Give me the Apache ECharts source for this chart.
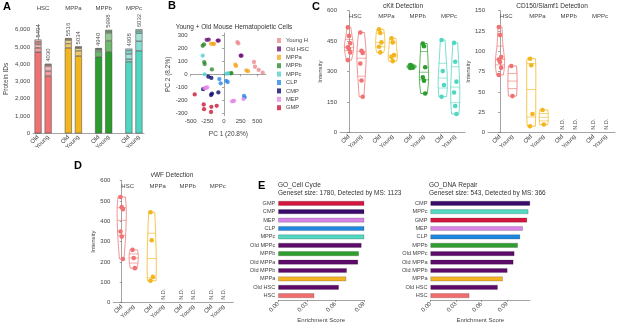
<!DOCTYPE html>
<html>
<head>
<meta charset="utf-8">
<script src="https://cdn.jsdelivr.net/npm/echarts@6/dist/echarts.min.js"></script>
<style>
  html, body { margin: 0; padding: 0; background: #fff; }
  #chart { width: 617px; height: 324px; }
</style>
</head>
<body>
<div id="chart"></div>
<script>
const FONT = 'Liberation Sans'

// ---- A: protein IDs (stacked segments per bar) ----
const aCats = ['Old', 'Young', '', 'Old', 'Young', '', 'Old', 'Young', '', 'Old', 'Young']
const aGroups = ['HSC', 'MPPa', 'MPPb', 'MPPc']
const aBase = [4700, 3320, 4950, 4480, 4440, 4720, 4150, 4780]
const aSeg1 = [250, 290, 250, 300, 300, 650, 150, 560]
const aSeg2 = [200, 290, 200, 150, 100, 450, 300, 460]
const aSeg3 = [150, 80, 70, 60, 60, 100, 200, 130]
const aSeg4 = [134, 50, 46, 44, 40, 78, 108, 102]
const aTicks = [0, 1000, 2000, 3000, 4000, 5000, 6000]

// ---- B: PCA ----
const bNames = ['Young HSC', 'Old HSC', 'MPPa', 'MPPb', 'MPPc', 'CLP', 'CMP', 'MEP', 'GMP']
const bYoungHSC = [[200, 250], [215, 240], [450, 96], [465, 59], [520, 34], [581, 13]]
const bOldHSC = [[-260, 268], [-230, 270], [-95, 262], [-80, 262], [250, 145], [262, 145]]
const bMPPa = [[-195, 238], [-165, 236], [-150, 236], [170, 75], [180, 65], [335, 30], [360, 25]]
const bMPPb = [[-320, 222], [-300, 232], [-297, 95], [-290, 80], [-182, 38], [100, 8], [112, 10]]
const bMPPc = [[-320, 145], [-290, 0], [40, 5], [60, 8]]
const bCLP = [[-70, -37], [-50, -70], [35, -50], [55, -60], [300, -168], [310, -180]]
const bCMP = [[-235, -18], [-190, -28], [-313, -115], [-195, -160], [-180, -150], [-85, -140]]
const bMEP = [[-290, -108], [-270, -104], [-250, -102], [120, -210], [140, -206], [150, -205], [290, -192]]
const bGMP = [[-440, -156], [-305, -234], [-300, -270], [-190, -252], [-195, -292], [-110, -244]]
const bColors = ['#ec8a8f', '#6e1079', '#f5a623', '#2d8a2d', '#4fd2d0', '#2b86e6', '#0b0b6d', '#e48ae8', '#c8173a']

// ---- C / D: per-population intensities (Old, Young for HSC, MPPa, MPPb, MPPc) ----
const vCats = ['Old', 'Young']
const vGroups = ['HSC', 'MPPa', 'MPPb', 'MPPc']
const cKit = [
  [518, 476, 440, 420, 412, 395, 357], [493, 403, 392, 340, 257, 177],
  [508, 490, 444, 423, 395], [464, 444, 382, 372, 352],
  [333, 325, 320, 318, 330], [439, 425, 322, 273, 256, 193],
  [456, 303, 234, 177], [442, 349, 251, 198, 131, 92]
]
const cd150 = [
  [130, 120, 93, 90, 87, 80, 71], [82, 45],
  [91, 83, 23, 8], [28, 10],
  [], [],
  [], []
]
const vwf = [
  [520, 470, 460, 350, 325, 215], [260, 220, 170],
  [445, 307, 127, 108], [],
  [], [],
  [], []
]
const groupColors = ['#f07272', '#f2b51e', '#2c9d2c', '#52d6c2']

// ---- E: enrichment scores ----
const eCellCats = ['GMP', 'CMP', 'MEP', 'CLP', 'MPPc', 'Old MPPc', 'MPPb', 'Old MPPa', 'Old MPPb', 'MPPa', 'Old HSC', 'HSC']
const eCellVals = [0.098, 0.097, 0.096, 0.095, 0.094, 0.0873, 0.0845, 0.0837, 0.0719, 0.0712, 0.0635, 0.0377]
const eDnaCats = ['CMP', 'MPPc', 'GMP', 'MEP', 'CLP', 'MPPb', 'Old MPPc', 'Old MPPa', 'Old MPPb', 'MPPa', 'Old HSC', 'HSC']
const eDnaVals = [0.117, 0.115, 0.1135, 0.1085, 0.1053, 0.1026, 0.0986, 0.0974, 0.0904, 0.0849, 0.079, 0.0456]
const eTicks = [0, 0.03, 0.06, 0.09]
const eColors = {
  GMP: '#d4163f', CMP: '#3a0b6a', MEP: '#d784e6', CLP: '#1f86e0', MPPc: '#52d7c1',
  'Old MPPc': '#5e0a69', MPPb: '#2e9e2e', 'Old MPPa': '#5e0a69', 'Old MPPb': '#5e0a69',
  MPPa: '#f4b224', 'Old HSC': '#5e0a69', HSC: '#f26d6d'
}

// ---------------- helpers ----------------
const lab = { fontSize: 6, color: '#444', fontFamily: FONT }
const axLine = { show: true, lineStyle: { color: '#666', width: 0.6 } }
const axTick = { show: true, length: 2, lineStyle: { color: '#666', width: 0.6 } }
const noSplit = { show: false }

function tint(hex, t) {
  const c = [1, 3, 5].map(i => parseInt(hex.slice(i, i + 2), 16))
  const m = c.map(v => Math.round(v + (236 - v) * t))
  return 'rgb(' + m.join(',') + ')'
}

// bar index for each A category (null = gap)
const catBar = []
let nb = 0
aCats.forEach(c => catBar.push(c ? nb++ : null))
const aSegs = [aBase, aSeg1, aSeg2, aSeg3, aSeg4]
const segTints = [0, 0.35, 0.55, 0.25, 0.6]

const aSeries = aSegs.map((seg, k) => ({
  type: 'bar', stack: 'a', xAxisIndex: 0, yAxisIndex: 0, barWidth: 7,
  data: catBar.map(b => b === null ? '-' : {
    value: seg[b],
    itemStyle: { color: tint(groupColors[Math.floor(b / 2)], segTints[k]), borderColor: '#444', borderWidth: 0.5 }
  }),
  label: k === aSegs.length - 1 ? {
    show: true, position: 'top', rotate: 90, align: 'left', verticalAlign: 'middle', distance: 2,
    fontSize: 6, color: '#555', fontFamily: FONT,
    formatter: p => String(aSegs.reduce((s, a) => s + a[catBar[p.dataIndex]], 0))
  } : { show: false }
}))

// violin x positions: Old = g*2.5, Young = g*2.5 + 1
const vPos = []
vGroups.forEach((g, gi) => vCats.forEach((c, ci) => vPos.push(gi * 2.5 + ci)))
const vCenters = vGroups.map((g, gi) => gi * 2.5 + 0.5)
const nearest = (arr, v) => arr.reduce((bi, a, i) => Math.abs(a - v) < Math.abs(arr[bi] - v) ? i : bi, 0)

function quant(sorted, q) {
  const p = (sorted.length - 1) * q, lo = Math.floor(p), hi = Math.ceil(p)
  return sorted[lo] + (sorted[hi] - sorted[lo]) * (p - lo)
}

function violinRender(vals, yRange) {
  return function (params, api) {
    const i = params.dataIndex
    const v = vals[i]
    const x = api.value(0)
    const base = api.coord([x, 0])
    const color = groupColors[Math.floor(i / 2)]
    if (!v.length) {
      return {
        type: 'text', x: base[0], y: base[1] - 3, rotation: Math.PI / 2,
        style: { text: 'N.D.', fontSize: 5.5, fill: '#555', fontFamily: FONT, align: 'left', verticalAlign: 'middle' }
      }
    }
    const n = v.length
    const mean = v.reduce((a, b) => a + b, 0) / n
    const sd = Math.sqrt(v.reduce((a, b) => a + (b - mean) * (b - mean), 0) / Math.max(n - 1, 1))
    const h = Math.max(1.06 * sd * Math.pow(n, -0.2), yRange * 0.02)
    const lo = Math.min(...v), hi = Math.max(...v)
    const steps = 30
    const dens = (y) => v.reduce((s, vi) => s + Math.exp(-0.5 * ((y - vi) / h) ** 2), 0)
    const ys = [], ds = []
    for (let k = 0; k <= steps; k++) {
      const y = lo + (hi - lo) * k / steps
      ys.push(y); ds.push(dens(y))
    }
    const dmax = Math.max(...ds)
    const HW = 4.6
    const wAt = (y) => dens(y) / dmax * HW
    const cx = base[0]
    const right = ys.map((y, k) => [cx + ds[k] / dmax * HW, api.coord([x, y])[1]])
    const left = ys.map((y, k) => [cx - ds[k] / dmax * HW, api.coord([x, y])[1]]).reverse()
    const children = [{
      type: 'polygon', shape: { points: right.concat(left) },
      style: { fill: 'rgba(255,255,255,0)', stroke: color, lineWidth: 0.8 }
    }]
    const sorted = v.slice().sort((a, b) => a - b)
    ;[0.25, 0.5, 0.75].forEach(q => {
      const y = quant(sorted, q)
      const py = api.coord([x, y])[1]
      const w = wAt(y)
      children.push({ type: 'line', shape: { x1: cx - w, y1: py, x2: cx + w, y2: py }, style: { stroke: color, lineWidth: 0.6 } })
    })
    v.forEach((val, k) => {
      children.push({
        type: 'circle', shape: { cx: cx + ((k % 3) - 1) * 1.2, cy: api.coord([x, val])[1], r: 2.3 },
        style: { fill: color }
      })
    })
    return { type: 'group', children }
  }
}

function violinAxes(gridIndex, min, max) {
  return [{
    gridIndex, type: 'value', min, max, axisLine: axLine, axisTick: { show: false }, splitLine: noSplit,
    axisLabel: { ...lab, rotate: 45, margin: 3, customValues: vPos, formatter: v => vCats[nearest(vPos, v) % 2] }
  }, {
    gridIndex, type: 'value', position: 'top', min, max, axisLine: { show: false }, axisTick: { show: false }, splitLine: noSplit,
    axisLabel: { ...lab, inside: true, margin: 3, customValues: vCenters, formatter: v => vGroups[nearest(vCenters, v)] }
  }]
}

function violinY(gridIndex, max, interval, gap) {
  return {
    gridIndex, type: 'value', min: 0, max, interval, axisLine: axLine, axisTick: axTick, splitLine: noSplit,
    axisLabel: { ...lab, margin: 3 },
    name: 'Intensity', nameLocation: 'middle', nameGap: gap, nameTextStyle: { ...lab }
  }
}

const titleBase = { padding: 0, textStyle: { fontSize: 6.5, fontWeight: 'normal', color: '#333', fontFamily: FONT } }
const letter = (t, l, tp) => ({ text: t, left: l, top: tp, padding: 0, textStyle: { fontSize: 11, fontWeight: 'bold', color: '#000', fontFamily: FONT } })
const centerTitle = (t, cx, tp) => ({ ...titleBase, text: t, left: cx, top: tp, textAlign: 'center' })

function eAxes(gridIndex, cats, max) {
  return {
    x: {
      gridIndex, type: 'value', min: 0, max, axisLine: axLine, axisTick: { ...axTick, customValues: eTicks }, splitLine: noSplit,
      axisLabel: { ...lab, rotate: 45, margin: 3, customValues: eTicks, formatter: v => v.toFixed(2) },
      name: 'Enrichment Score', nameLocation: 'middle', nameGap: 17, nameTextStyle: { ...lab }
    },
    y: {
      gridIndex, type: 'category', data: cats, inverse: true,
      axisLine: { show: false }, axisTick: { show: false }, axisLabel: { ...lab, fontSize: 5.6, margin: 3 }
    }
  }
}
const eLeft = eAxes(5, eCellCats, 0.09)
const eRight = eAxes(6, eDnaCats, 0.117)
const cAx = violinAxes(2, -0.72, 9.28)
const sAx = violinAxes(3, -0.96, 9.2)
const dAx = violinAxes(4, -0.7, 9.3)

const bSets = [bYoungHSC, bOldHSC, bMPPa, bMPPb, bMPPc, bCLP, bCMP, bMEP, bGMP]

const option = {
  animation: false,
  backgroundColor: '#fff',
  title: [
    letter('A', 3, 1), letter('B', 168, 0), letter('C', 312, 1), letter('D', 74, 160), letter('E', 258, 180),
    centerTitle('Young + Old Mouse Hematopoietic Cells', 234, 24),
    centerTitle('cKit Detection', 403, 3),
    centerTitle('CD150/Slamf1 Detection', 552, 3),
    centerTitle('vWF Detection', 172, 172),
    { ...titleBase, text: 'GO_Cell Cycle', subtext: 'Geneset size: 1780, Detected by MS: 1123', left: 278, top: 181.5, itemGap: 1.5,
      subtextStyle: { fontSize: 6.5, color: '#333', fontFamily: FONT } },
    { ...titleBase, text: 'GO_DNA Repair', subtext: 'Geneset size: 543, Detected by MS: 366', left: 429, top: 181.5, itemGap: 1.5,
      subtextStyle: { fontSize: 6.5, color: '#333', fontFamily: FONT } }
  ],
  legend: {
    data: bNames, orient: 'vertical', left: 277, top: 37.5, itemWidth: 4, itemHeight: 5, itemGap: 2.4,
    icon: 'rect', padding: 0, selectedMode: false,
    textStyle: { fontSize: 5.8, color: '#444', fontFamily: FONT, width: 25, overflow: 'truncate', ellipsis: '' }
  },
  grid: [
    { left: 33, top: 24.6, width: 111, height: 108.7, outerBoundsMode: 'none' },
    { left: 190.7, top: 33.1, width: 75.3, height: 82.5, outerBoundsMode: 'none' },
    { left: 340, top: 10.7, width: 125, height: 122, outerBoundsMode: 'none' },
    { left: 488, top: 10.7, width: 127, height: 122, outerBoundsMode: 'none' },
    { left: 113.3, top: 180.7, width: 120, height: 122, outerBoundsMode: 'none' },
    { left: 278.3, top: 199.1, width: 85.7, height: 100.8, outerBoundsMode: 'none' },
    { left: 430.5, top: 199.1, width: 99.5, height: 100.8, outerBoundsMode: 'none' }
  ],
  xAxis: [
    { gridIndex: 0, type: 'category', data: aCats, axisLine: axLine, axisTick: { show: false },
      axisLabel: { ...lab, rotate: 45, margin: 3, interval: 0 } },
    { gridIndex: 0, type: 'value', position: 'top', min: -0.5, max: 10.5, axisLine: { show: false }, axisTick: { show: false }, splitLine: noSplit,
      axisLabel: { ...lab, margin: 13.6, customValues: [0.5, 3.5, 6.5, 9.5], formatter: v => aGroups[Math.round((v - 0.5) / 3)] } },
    { gridIndex: 1, type: 'value', min: -500, max: 630, axisLine: axLine, axisTick: { ...axTick, customValues: [-500, -250, 0, 250, 500] },
      splitLine: noSplit, axisLabel: { ...lab, margin: 3, customValues: [-500, -250, 0, 250, 500] },
      name: 'PC 1 (20.8%)', nameLocation: 'middle', nameGap: 15, nameTextStyle: { ...lab, fontSize: 6.5 } },
    cAx[0], cAx[1], sAx[0], sAx[1], dAx[0], dAx[1],
    eLeft.x, eRight.x
  ],
  yAxis: [
    { gridIndex: 0, type: 'value', min: 0, max: 6300, axisLine: axLine, axisTick: { ...axTick, customValues: aTicks }, splitLine: noSplit,
      axisLabel: { ...lab, margin: 3, customValues: aTicks },
      name: 'Protein IDs', nameLocation: 'middle', nameGap: 23, nameTextStyle: { ...lab, fontSize: 6.5 } },
    { gridIndex: 1, type: 'value', min: -320, max: 320, axisLine: axLine,
      axisTick: { ...axTick, customValues: [-300, -200, -100, 0, 100, 200, 300] }, splitLine: noSplit,
      axisLabel: { ...lab, margin: 3, customValues: [-300, -200, -100, 0, 100, 200, 300] },
      name: 'PC 2 (8.2%)', nameLocation: 'middle', nameGap: 19, nameTextStyle: { ...lab, fontSize: 6.5 } },
    violinY(2, 600, 150, 17),
    violinY(3, 150, 25, 14),
    violinY(4, 600, 100, 17),
    eLeft.y, eRight.y
  ],
  series: [
    ...aSeries,
    ...bSets.map((d, i) => ({
      name: bNames[i], type: 'scatter', xAxisIndex: 2, yAxisIndex: 1, data: d,
      symbolSize: 4.3, itemStyle: { color: bColors[i] }
    })),
    { type: 'custom', name: 'cKit', xAxisIndex: 3, yAxisIndex: 2, data: vPos.map(p => [p, 0]), renderItem: violinRender(cKit, 600) },
    { type: 'custom', name: 'cd150', xAxisIndex: 5, yAxisIndex: 3, data: vPos.map(p => [p, 0]), renderItem: violinRender(cd150, 150) },
    { type: 'custom', name: 'vwf', xAxisIndex: 7, yAxisIndex: 4, data: vPos.map(p => [p, 0]), renderItem: violinRender(vwf, 600) },
    { type: 'bar', name: 'cellCycle', xAxisIndex: 9, yAxisIndex: 5, barWidth: 4.6,
      data: eCellVals.map((v, i) => ({ value: v, itemStyle: { color: eColors[eCellCats[i]], borderColor: 'rgba(0,0,0,0.45)', borderWidth: 0.4 } })) },
    { type: 'bar', name: 'dnaRepair', xAxisIndex: 10, yAxisIndex: 6, barWidth: 4.6,
      data: eDnaVals.map((v, i) => ({ value: v, itemStyle: { color: eColors[eDnaCats[i]], borderColor: 'rgba(0,0,0,0.45)', borderWidth: 0.4 } })) }
  ]
}

const chart = echarts.init(document.getElementById('chart'))
chart.setOption(option)
</script>
</body>
</html>
